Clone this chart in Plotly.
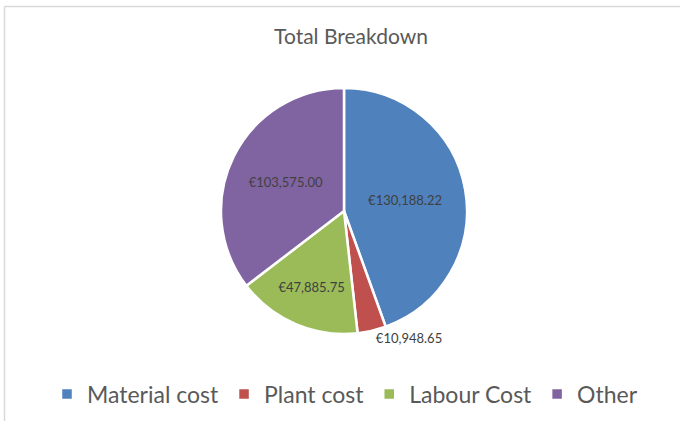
import plotly.graph_objects as go

categories = ["Material cost", "Plant cost", "Labour Cost", "Other"]
values = [130188.22, 10948.65, 47885.75, 103575.00]
colors = ["#4F81BD", "#C0504D", "#9BBB59", "#8064A2"]
text_positions = ["inside", "outside", "inside", "inside"]

W, H = 680, 421
cx, cy, r = 344, 211, 123

fig = go.Figure(go.Pie(
    labels=categories,
    values=values,
    sort=False,
    direction="clockwise",
    rotation=0,
    marker=dict(colors=colors, line=dict(color="white", width=2.5)),
    texttemplate="€%{value:,.2f}",
    textposition=text_positions,
    insidetextorientation="horizontal",
    textfont=dict(family="Lato, sans-serif", size=13, color="#404040"),
    hoverinfo="label+value+percent",
    domain=dict(x=[(cx - r) / W, (cx + r) / W], y=[1 - (cy + r) / H, 1 - (cy - r) / H]),
))

fig.update_layout(
    width=W, height=H,
    margin=dict(l=0, r=0, t=0, b=0),
    paper_bgcolor="white",
    font=dict(family="Lato, sans-serif", color="#595959"),
    title=dict(text="Total Breakdown", x=351 / W, xanchor="center", y=1 - 37 / H, yanchor="middle",
               font=dict(size=21, color="#595959")),
    legend=dict(orientation="h", x=345 / W, xanchor="center", y=1 - 394 / H, yanchor="middle",
                font=dict(size=23, color="#595959"), itemwidth=30),
    shapes=[
        dict(type="line", xref="paper", yref="paper", x0=4.5 / W, x1=1, y0=1 - 6.5 / H, y1=1 - 6.5 / H,
             line=dict(color="#D9D9D9", width=1.5)),
        dict(type="line", xref="paper", yref="paper", x0=4.5 / W, x1=4.5 / W, y0=0, y1=1 - 6.5 / H,
             line=dict(color="#D9D9D9", width=1.5)),
    ],
)

fig.write_html("out.html", config={"displayModeBar": False},
               post_script="document.body.style.margin='0';document.body.style.overflow='hidden';")
